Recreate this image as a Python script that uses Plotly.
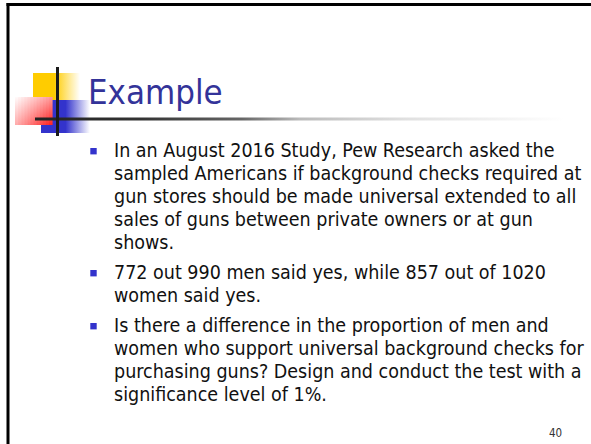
import plotly.graph_objects as go

# ---- slide content ----
title_text = "Example"
bullet1_lines = [
    "In an August 2016 Study, Pew Research asked the",
    "sampled Americans if background checks required at",
    "gun stores should be made universal extended to all",
    "sales of guns between private owners or at gun",
    "shows.",
]
bullet2_lines = [
    "772 out 990 men said yes, while 857 out of 1020",
    "women said yes.",
]
bullet3_lines = [
    "Is there a difference in the proportion of men and",
    "women who support universal background checks for",
    "purchasing guns? Design and conduct the test with a",
    "significance level of 1%.",
]
page_number = "40"

# ---- layout parameters ----
# figure is slightly larger than the 591x444 window so its right/bottom edge falls off-screen
W, H = 600, 450
FONT = "Tahoma, Verdana, 'DejaVu Sans Condensed', 'Liberation Sans', sans-serif"
text_x = 112
bullet_x = 93.5
line_gap = 23
bullet_gap = 30
first_line_y = 150
body_size = 19.5

fig = go.Figure()

def grad_rect(x0, x1, y0, y1, cscale, gtype="horizontal"):
    fig.add_trace(go.Scatter(
        x=[x0, x1, x1, x0, x0], y=[y0, y0, y1, y1, y0],
        mode="none", fill="toself", hoverinfo="skip", showlegend=False,
        fillgradient=dict(type=gtype, colorscale=cscale),
    ))

# yellow square (fades to the right)
grad_rect(33, 80, 73, 100, [[0, "#FFCC00"], [0.45, "#FFCC00"], [1, "#FFFFFF"]])
# blue square (fades to the right)
grad_rect(41, 90, 100, 133, [[0, "#3333CC"], [0.5, "#3333CC"], [1, "#FFFFFF"]])
# red square: diagonal fade (red top-right -> white bottom-left), built from strips
rx0, rx1, ry0, ry1 = 15, 52, 97, 125
n = 12
def red_at(t):
    g = int(255 - (255 - 30) * t)
    return f"rgb(255,{g},{g})"
for i in range(n):
    xa = rx0 + (rx1 - rx0) * i / n
    xb = rx0 + (rx1 - rx0) * (i + 1) / n
    fx = (i + 0.5) / n
    top = min(1.0, 0.35 + 0.65 * fx)
    bot = min(1.0, 0.45 * fx)
    grad_rect(xa, xb + 0.6, ry0, ry1, [[0, red_at(top)], [1, red_at(bot)]], "vertical")

# horizontal rule with fade
grad_rect(35, 565, 117.5, 120.5,
          [[0, "#222222"], [0.2, "#333333"], [0.39, "#666666"], [0.5, "#BBBBBB"],
           [0.7, "#E0E0E0"], [1, "#FFFFFF"]])

shapes = [
    # slide frame (top & left)
    dict(type="line", x0=6.5, x1=W, y0=4.5, y1=4.5, line=dict(color="#000000", width=3)),
    dict(type="line", x0=8, x1=8, y0=3, y1=H, line=dict(color="#000000", width=3)),
    # vertical logo line
    dict(type="line", x0=57.5, x1=57.5, y0=67, y1=136, line=dict(color="#1a1a1a", width=3)),
]

annotations = [
    dict(x=564, y=433, text=page_number, showarrow=False, xanchor="right", yanchor="middle",
         font=dict(family=FONT, size=11.5, color="#333333")),
    dict(x=86, y=92, text=title_text, showarrow=False, xanchor="left", yanchor="middle",
         font=dict(family=FONT, size=34.5, color="#333399")),
]

y = first_line_y
for k, lines in enumerate([bullet1_lines, bullet2_lines, bullet3_lines]):
    if k > 0:
        y += bullet_gap
    shapes.append(dict(type="rect", x0=bullet_x - 3.2, x1=bullet_x + 3.2, y0=y - 2, y1=y + 4.4,
                       fillcolor="#3333CC", line=dict(width=0)))
    for j, ln in enumerate(lines):
        if j > 0:
            y += line_gap
        annotations.append(dict(x=text_x, y=y, text=ln, showarrow=False, xanchor="left",
                                yanchor="middle",
                                font=dict(family=FONT, size=body_size, color="#111111")))

fig.update_layout(
    width=W, height=H, margin=dict(l=0, r=0, t=0, b=0),
    paper_bgcolor="white", plot_bgcolor="white",
    xaxis=dict(range=[0, W], visible=False, fixedrange=True),
    yaxis=dict(range=[H, 0], visible=False, fixedrange=True),
    shapes=shapes, annotations=annotations, showlegend=False,
)

fig.write_html(
    "out.html",
    config=dict(displayModeBar=False),
    post_script=(
        "document.documentElement.style.overflow='hidden';"
        "document.body.style.margin='0';document.body.style.overflow='hidden';"
    ),
)
